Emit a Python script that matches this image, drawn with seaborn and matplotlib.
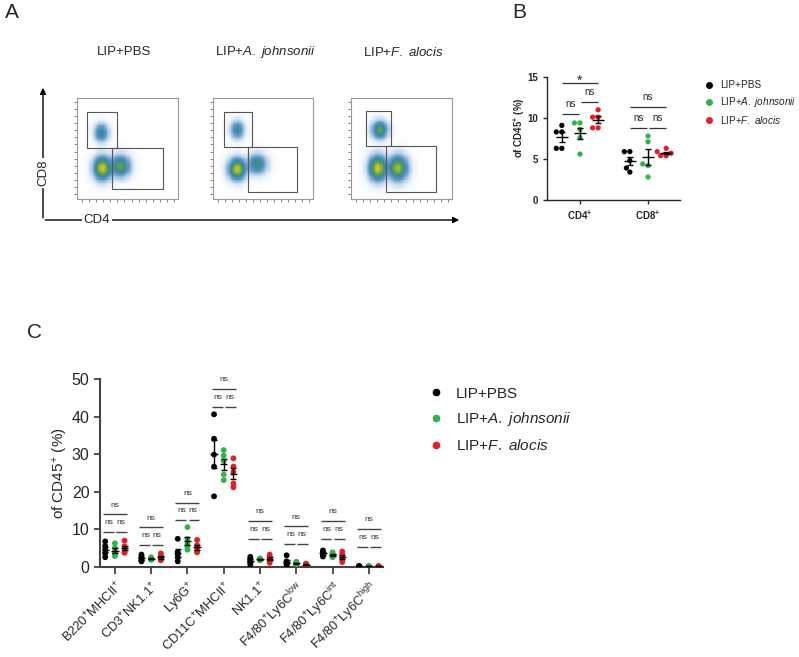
import numpy as np
import pandas as pd
import matplotlib
matplotlib.use("Agg")
import matplotlib.pyplot as plt
import seaborn as sns
from matplotlib.colors import LinearSegmentedColormap
from matplotlib.patches import Rectangle
from matplotlib.lines import Line2D

W, H = 799, 657

groups = ["LIP+PBS", "LIP+A. johnsonii", "LIP+F. alocis"]
group_labels = ["LIP+PBS", r"LIP+$\it{A.\ johnsonii}$", r"LIP+$\it{F.\ alocis}$"]
colors = ["#000000", "#35b24a", "#e41f2a"]

# ---- panel B data (% of CD45+)
b_cells = ["CD4", "CD8"]
b_pbs = [[9.1, 8.3, 8.3, 6.3, 6.3], [5.9, 5.9, 4.8, 3.9, 3.4]]
b_john = [[9.4, 9.4, 8.6, 7.6, 5.6], [7.8, 7.1, 4.4, 4.2, 2.8]]
b_fal = [[11.0, 10.1, 10.1, 8.8, 8.8], [6.3, 5.9, 5.7, 5.4, 5.4]]
b_top = [14.3, 11.3]
b_low_left = [10.5, 8.75]
b_low_right = [12.0, 8.75]
b_top_txt = ["*", "ns"]

# ---- panel C data (% of CD45+)
c_cells = ["B220MHCII", "CD3NK1.1", "Ly6G", "CD11CMHCII", "NK1.1",
           "F4/80Ly6Clow", "F4/80Ly6Cint", "F4/80Ly6Chigh"]
c_ticklabels = [r"B220$^{+}$MHCII$^{+}$", r"CD3$^{+}$NK1.1$^{+}$", r"Ly6G$^{+}$",
                r"CD11C$^{+}$MHCII$^{+}$", r"NK1.1$^{+}$", r"F4/80$^{+}$Ly6C$^{\mathrm{low}}$",
                r"F4/80$^{+}$Ly6C$^{\mathrm{int}}$", r"F4/80$^{+}$Ly6C$^{\mathrm{high}}$"]
c_pbs = [[6.8, 5.6, 4.6, 3.6, 2.6], [3.3, 2.8, 2.2, 1.7, 1.5], [7.5, 4.0, 3.3, 2.5, 1.5],
         [40.6, 34.1, 29.9, 26.7, 18.8], [2.7, 2.2, 1.7, 1.2, 0.6], [3.1, 1.5, 1.1, 0.8, 0.5],
         [4.4, 4.0, 3.6, 3.2, 2.8], [0.2, 0.2, 0.2, 0.2, 0.2]]
c_john = [[6.3, 5.1, 4.0, 3.3, 2.9], [2.6, 2.4, 2.2, 2.0, 1.9], [10.6, 7.4, 6.2, 5.4, 4.6],
          [31.1, 29.6, 28.2, 24.6, 23.1], [2.3, 2.1, 2.0, 1.9, 1.8], [1.4, 1.1, 0.9, 0.8, 0.7],
          [3.9, 3.5, 3.2, 2.9, 2.6], [0.2, 0.2, 0.2, 0.2, 0.2]]
c_fal = [[7.0, 5.5, 5.0, 4.0, 3.8], [3.6, 3.0, 2.5, 2.0, 1.8], [7.2, 5.8, 5.0, 4.2, 3.9],
         [28.9, 26.7, 25.3, 22.2, 21.2], [3.3, 2.7, 2.2, 1.6, 1.1], [0.9, 0.8, 0.6, 0.5, 0.4],
         [4.1, 3.4, 2.6, 1.9, 1.3], [0.2, 0.2, 0.2, 0.2, 0.2]]
c_top = [14.0, 10.6, 17.1, 47.4, 12.2, 10.8, 12.3, 10.1]
c_low = [9.3, 5.9, 12.5, 42.6, 7.5, 6.1, 7.5, 5.4]

# ---- panel A: flow populations (x, y, sx, sy, weight) in plot fraction
flow_titles = ["LIP+PBS", r"LIP+$\it{A.\ johnsonii}$", r"LIP+$\it{F.\ alocis}$"]
flow_title_x = [124, 265, 403]
flow_clusters = [
    [(0.24, 0.65, 0.04, 0.05, 0.45), (0.25, 0.30, 0.05, 0.065, 1.0), (0.43, 0.32, 0.055, 0.06, 0.65)],
    [(0.24, 0.68, 0.04, 0.05, 0.4), (0.24, 0.29, 0.05, 0.06, 0.95), (0.44, 0.34, 0.055, 0.055, 0.5)],
    [(0.28, 0.68, 0.045, 0.05, 0.65), (0.26, 0.30, 0.05, 0.07, 1.0), (0.46, 0.30, 0.055, 0.07, 0.85)],
]
flow_gates = [
    [(0.10, 0.50, 0.40, 0.86), (0.35, 0.10, 0.85, 0.50)],
    [(0.11, 0.515, 0.39, 0.86), (0.35, 0.07, 0.84, 0.515)],
    [(0.15, 0.52, 0.40, 0.87), (0.35, 0.07, 0.84, 0.52)],
]
flow_boxes = [(77, 178), (213, 313), (351, 452)]

sns.set_style("ticks")
plt.rcParams['font.family'] = ['Liberation Sans', 'DejaVu Sans']
plt.rcParams['mathtext.fontset'] = 'custom'
plt.rcParams['mathtext.rm'] = 'Liberation Sans'
plt.rcParams['mathtext.it'] = 'Liberation Sans:italic'
plt.rcParams['mathtext.bf'] = 'Liberation Sans:bold'


def rect(x0, y0, x1, y1):
    return [x0 / W, 1 - y1 / H, (x1 - x0) / W, (y1 - y0) / H]


def long_df(cells, pbs, john, fal):
    rows = []
    for g, vals in zip(groups, [pbs, john, fal]):
        for c, v in zip(cells, vals):
            for x in v:
                rows.append((c, g, x))
    return pd.DataFrame(rows, columns=["cell", "group", "pct"])


fig = plt.figure(figsize=(W / 100, H / 100), dpi=100)

# overlay for labels and arrows
ov = fig.add_axes([0, 0, 1, 1])
ov.set_xlim(0, W)
ov.set_ylim(H, 0)
ov.axis("off")
ov.text(5, 12, "A", fontsize=15, va="center", ha="left")
ov.text(512, 12, "B", fontsize=15, va="center", ha="left")
ov.text(27, 333, "C", fontsize=15, va="center", ha="left")
ov.annotate("", xy=(43, 85), xytext=(43, 220.5),
            arrowprops=dict(arrowstyle="-|>", lw=1, color="black", mutation_scale=9))
ov.annotate("", xy=(462, 220), xytext=(42.5, 220),
            arrowprops=dict(arrowstyle="-|>", lw=1, color="black", mutation_scale=9))
ov.text(43, 173, "CD8", rotation=90, ha="center", va="center", fontsize=9.5,
        bbox=dict(facecolor="white", edgecolor="none", pad=1.5), zorder=5)
ov.text(97, 220, "CD4", ha="center", va="center", fontsize=9.5,
        bbox=dict(facecolor="white", edgecolor="none", pad=1.5), zorder=5)

# ---- panel A
flow_cmap = LinearSegmentedColormap.from_list(
    "flow", [(0, "#ffffff"), (0.12, "#f0f5fb"), (0.3, "#b8d2ea"), (0.5, "#6399c9"),
             (0.68, "#3c879c"), (0.84, "#5aa548"), (1.0, "#d6c034")])
grid = np.linspace(0, 1, 90)
gx, gy = np.meshgrid(grid, grid)
for i, (x0, x1) in enumerate(flow_boxes):
    ax = fig.add_axes(rect(x0, 98, x1, 199))
    dens = np.zeros_like(gx)
    for cx, cy, sx, sy, w in flow_clusters[i]:
        dens += w * np.exp(-((gx - cx) ** 2 / (2 * sx ** 2) + (gy - cy) ** 2 / (2 * sy ** 2)))
    ax.imshow(dens ** 0.45, origin="lower", extent=(0, 1, 0, 1), cmap=flow_cmap, vmin=0, vmax=1,
              interpolation="nearest", aspect="auto")
    for gx0, gy0, gx1, gy1 in flow_gates[i]:
        ax.add_patch(Rectangle((gx0, gy0), gx1 - gx0, gy1 - gy0, fill=False, ec="#555555", lw=0.8))
    ax.set_xlim(0, 1)
    ax.set_ylim(0, 1)
    ax.set_xticks(np.arange(0.05, 1, 0.07))
    ax.set_yticks(np.arange(0.05, 1, 0.07))
    ax.tick_params(length=2, width=0.5, color="#555555", labelleft=False, labelbottom=False)
    for s in ax.spines.values():
        s.set_color("#999999")
        s.set_linewidth(0.8)
    ov.text(flow_title_x[i], 52, flow_titles[i], ha="center", va="center", fontsize=9.5)

# ---- panel B
df_b = long_df(b_cells, b_pbs, b_john, b_fal)
ax_b = fig.add_axes(rect(547, 77, 680, 200))
sns.swarmplot(data=df_b, x="cell", y="pct", hue="group", order=b_cells, hue_order=groups,
              palette=colors, dodge=True, size=3.8, ax=ax_b, legend=False)
stats_b = df_b.groupby(["cell", "group"])["pct"].agg(["mean", "sem"])
for i, c in enumerate(b_cells):
    for j, g in enumerate(groups):
        x = i + (j - 1) * 0.267
        m, se = stats_b.loc[(c, g)]
        ax_b.hlines(m, x - 0.09, x + 0.09, color="black", lw=1, zorder=4)
        ax_b.errorbar(x, m, yerr=se, fmt="none", ecolor="black", elinewidth=1,
                      capsize=2.5, capthick=1, zorder=4)
    ax_b.hlines(b_top[i], i - 0.267, i + 0.267, color="#333333", lw=0.9)
    ax_b.hlines(b_low_left[i], i - 0.267, i - 0.01, color="#333333", lw=0.9)
    ax_b.hlines(b_low_right[i], i + 0.01, i + 0.267, color="#333333", lw=0.9)
    if b_top_txt[i] == "*":
        ax_b.text(i, b_top[i] + 0.2, "*", ha="center", va="center", fontsize=10, clip_on=False)
    else:
        ax_b.text(i, b_top[i] + 0.6, "ns", ha="center", va="bottom", fontsize=7)
    ax_b.text(i - 0.135, b_low_left[i] + 0.6, "ns", ha="center", va="bottom", fontsize=7)
    ax_b.text(i + 0.135, b_low_right[i] + 0.6, "ns", ha="center", va="bottom", fontsize=7)
ax_b.set_xlim(-0.485, 1.47)
ax_b.set_ylim(0, 15)
ax_b.set_yticks([0, 5, 10, 15])
ax_b.set_xticks([0, 1])
ax_b.set_xticklabels([r"CD4$^{\mathbf{+}}$", r"CD8$^{\mathbf{+}}$"], fontweight="bold")
ax_b.set_xlabel("")
ax_b.set_ylabel(r"of CD45$^{\mathbf{+}}$ (%)", fontsize=7, fontweight="bold")
ax_b.yaxis.set_label_coords(-0.15, 0.59)
ax_b.tick_params(labelsize=7, length=3, width=1)
for lab in ax_b.get_yticklabels():
    lab.set_fontweight("bold")
sns.despine(ax=ax_b)
for s in ["left", "bottom"]:
    ax_b.spines[s].set_linewidth(1)
hb = [Line2D([], [], marker="o", ls="", color=c, markersize=4) for c in colors]
ax_b.legend(hb, group_labels, loc="center left", bbox_to_anchor=(695 / W, 1 - 103 / H),
            bbox_transform=fig.transFigure, frameon=False, fontsize=7.2,
            handlelength=1, handletextpad=0.6, labelspacing=0.45)

# ---- panel C
df_c = long_df(c_cells, c_pbs, c_john, c_fal)
ax_c = fig.add_axes(rect(100, 379, 383, 567))
sns.stripplot(data=df_c, x="cell", y="pct", hue="group", order=c_cells, hue_order=groups,
              palette=colors, dodge=True, jitter=False, size=4.2, ax=ax_c, legend=False)
stats_c = df_c.groupby(["cell", "group"])["pct"].agg(["mean", "sem"])
for i, c in enumerate(c_cells):
    for j, g in enumerate(groups):
        x = i + (j - 1) * 0.267
        m, se = stats_c.loc[(c, g)]
        ax_c.hlines(m, x - 0.1, x + 0.1, color="black", lw=1, zorder=4)
        ax_c.errorbar(x, m, yerr=se, fmt="none", ecolor="black", elinewidth=1,
                      capsize=2, capthick=1, zorder=4)
    ax_c.hlines(c_top[i], i - 0.33, i + 0.33, color="#444444", lw=1)
    ax_c.hlines(c_low[i], i - 0.33, i - 0.03, color="#444444", lw=1)
    ax_c.hlines(c_low[i], i + 0.03, i + 0.33, color="#444444", lw=1)
    ax_c.text(i, c_top[i] + 1.5, "ns", ha="center", va="bottom", fontsize=6, color="#333333",
              clip_on=False)
    ax_c.text(i - 0.16, c_low[i] + 1.5, "ns", ha="center", va="bottom", fontsize=6, color="#333333")
    ax_c.text(i + 0.16, c_low[i] + 1.5, "ns", ha="center", va="bottom", fontsize=6, color="#333333")
ax_c.set_xlim(-0.41, 7.39)
ax_c.set_ylim(0, 50)
ax_c.set_yticks([0, 10, 20, 30, 40, 50])
ax_c.set_xticks(range(len(c_cells)))
ax_c.set_xticklabels(c_ticklabels, rotation=45, ha="right", rotation_mode="anchor", fontsize=9.3)
ax_c.set_xlabel("")
ax_c.set_ylabel(r"of CD45$^{+}$ (%)", fontsize=11)
ax_c.yaxis.set_label_coords(-0.105, 0.5)
ax_c.tick_params(axis="y", labelsize=11.5, length=4, width=1.3, color="#444444")
ax_c.tick_params(axis="x", length=5, width=1.3, color="#444444")
sns.despine(ax=ax_c)
for s in ["left", "bottom"]:
    ax_c.spines[s].set_linewidth(1.5)
    ax_c.spines[s].set_color("#444444")
hc = [Line2D([], [], marker="o", ls="", color=c, markersize=4.5) for c in colors]
ax_c.legend(hc, group_labels, loc="center left", bbox_to_anchor=(415 / W, 1 - 420 / H),
            bbox_transform=fig.transFigure, frameon=False, fontsize=11,
            handlelength=1, handletextpad=0.8, labelspacing=0.65)

fig.savefig("out.png", dpi=100)
